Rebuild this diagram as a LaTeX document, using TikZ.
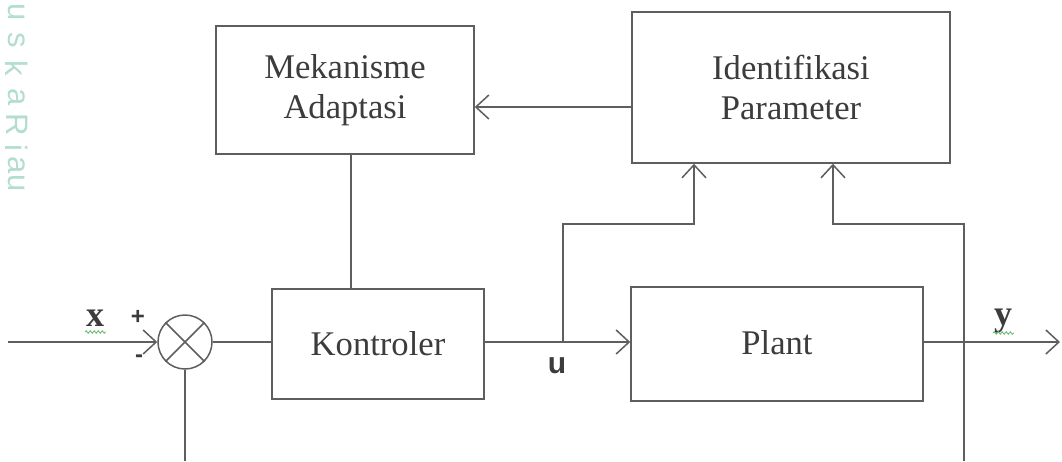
\documentclass[tikz,border=0pt]{standalone}
\usepackage{fontspec}
\setmainfont{Liberation Serif}
\setsansfont{Liberation Sans}
\usetikzlibrary{arrows.meta,decorations.pathmorphing}
\definecolor{ln}{HTML}{5E5E5E}
\definecolor{tx}{HTML}{3C3C3C}
\definecolor{wmc}{HTML}{B2DDD0}
\definecolor{spc}{HTML}{6DBE6D}
\begin{document}
\begin{tikzpicture}[x=1pt,y=-1pt,
  >={Straight Barb[length=13pt,width=24pt]},
  blk/.style={draw=ln,line width=1.5pt,rectangle,inner sep=0pt,align=center,
    font=\fontsize{34.6}{40}\selectfont,text=tx},
  wire/.style={draw=ln,line width=1.5pt},
  lbl/.style={text=tx,inner sep=0pt},
  squig/.style={draw=spc,line width=0.9pt,decorate,
    decoration={snake,amplitude=1.2pt,segment length=4pt}},
  wmark/.style={text=wmc,font=\sffamily\fontsize{31}{31}\selectfont,rotate=-90,inner sep=0pt}]
\useasboundingbox (0,0) rectangle (1062,461);
% watermark letters
\foreach \ch/\yy [count=\i] in {u/12,s/40,k/68,a/97,R/125,i/148,a/165,u/183}
  \node[wmark] (wm\i) at (17,\yy) {\ch};
% blocks
\node[blk,minimum width=258pt,minimum height=128pt] (mek) at (345,90) {Mekanisme\\Adaptasi};
\node[blk,minimum width=318pt,minimum height=151pt] (idn) at (791,87.5) {Identifikasi\\Parameter};
\node[blk,minimum width=212pt,minimum height=110pt] (kon) at (378,344) {Kontroler};
\node[blk,minimum width=292pt,minimum height=114pt] (plant) at (777,344) {\raisebox{4pt}{Plant}};
\node[draw=ln,line width=1.5pt,circle,minimum size=54pt,inner sep=0pt] (sum) at (185,342) {};
\draw[wire] (sum.north west) -- (sum.south east);
\draw[wire] (sum.north east) -- (sum.south west);
% coordinates
\coordinate (in) at (8,342);
\coordinate (out) at (1060,342);
\coordinate (uj) at (563,342);
\coordinate (yj) at (964,342);
\coordinate (ua) at (694,224);
\coordinate (ya) at (833,224);
\coordinate (ia) at (632,107);
\coordinate (mx) at (351,0);
\coordinate (fb1) at (185,461);
\coordinate (fb2) at (964,461);
% connectors
\draw[wire,->] (in) -- (sum.west);
\draw[wire] (sum.east) -- (sum.east -| kon.west);
\draw[wire,->] (kon.east |- uj) -- (uj -| plant.west);
\draw[wire,->] (plant.east |- yj) -- (out);
\draw[wire,->] (uj) |- (ua) -- (ua |- idn.south);
\draw[wire,->] (yj) |- (ya) -- (ya |- idn.south);
\draw[wire,->] (ia) -- (ia -| mek.east);
\draw[wire] (mek.south -| mx) -- (kon.north -| mx);
\draw[wire] (sum.south) -- (fb1);
\draw[wire] (yj) -- (fb2);
% labels
\node[lbl,font=\bfseries\fontsize{36}{36}\selectfont] (xl) at (95,318) {x};
\node[lbl,font=\bfseries\fontsize{36}{36}\selectfont] (yl) at (1003,321) {y};
\draw[squig] (85,332) -- (106,332);
\draw[squig] (993,333) -- (1014,333);
\node[lbl,font=\sffamily\bfseries\fontsize{24}{24}\selectfont] (plus) at (138,317) {+};
\node[lbl,font=\sffamily\bfseries\fontsize{24}{24}\selectfont] (minus) at (139,359) {-};
\node[lbl,font=\sffamily\bfseries\fontsize{30}{30}\selectfont] (ul) at (557,366) {u};
\end{tikzpicture}
\end{document}
